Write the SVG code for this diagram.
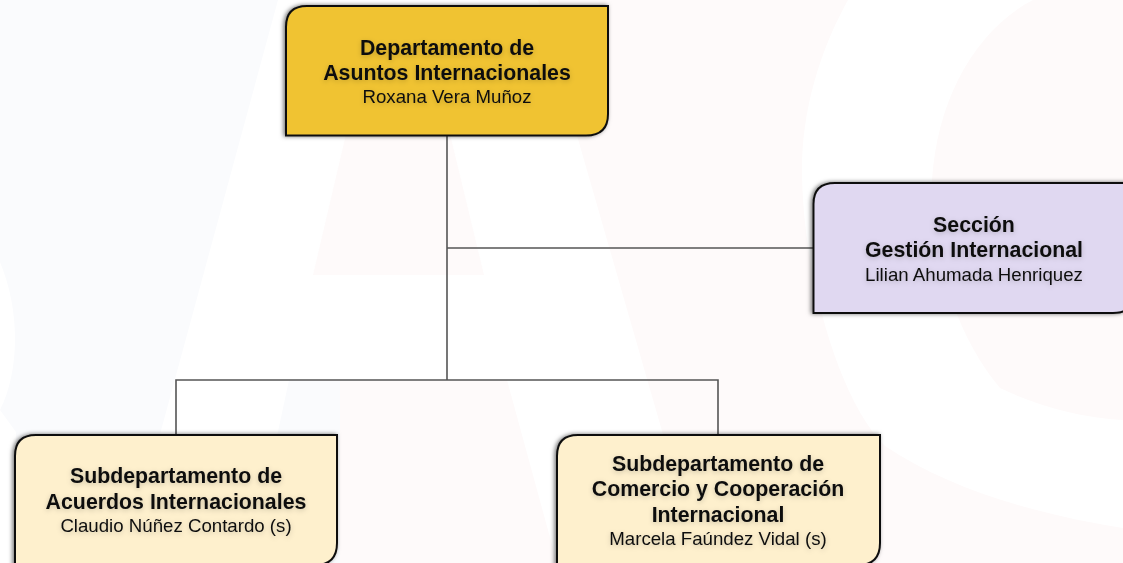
<svg xmlns="http://www.w3.org/2000/svg" width="1123" height="563" viewBox="0 0 1123 563">
<defs>
<style>
.box{stroke:#111;stroke-width:2}
.t{font-family:"Liberation Sans",Arial,sans-serif;text-anchor:middle;fill:#111;filter:url(#ts)}
.b{font-size:21.33px;font-weight:bold}
.r{font-size:18.67px}
.c{fill:none;stroke:#555;stroke-width:1.6}
.wb{fill:#fafbfd}.wp{fill:#fefafa}
</style>
<filter id="bs" x="-10%" y="-10%" width="120%" height="120%"><feDropShadow dx="-1.5" dy="0" stdDeviation="2.2" flood-color="#000" flood-opacity=".55"/></filter>
<filter id="ts" x="-10%" y="-40%" width="120%" height="180%"><feDropShadow dx="0" dy="1.5" stdDeviation="2.5" flood-color="#000" flood-opacity=".2"/></filter>
</defs>
<rect width="1123" height="563" fill="#fff"/>
<g id="watermark">
<path class="wb" d="M0 0H278L125 563H16V432L0 410C20 370 20 310 0 262Z"/>
<path class="wb" d="M289 380H341V563H250Z"/>
<path class="wp" d="M347 130H449L484 275H313Z"/>
<path class="wp" d="M340 380H507L557 563H340Z"/>
<path class="wp" d="M538 0H848C820 50 802 110 802 169C802 270 838 400 885 446C950 490 1040 515 1123 528V563H700Z"/>
<path class="wp" d="M1033 0C975 30 937 100 932 180C930 250 955 335 1000 388C1035 405 1080 418 1123 420V0Z"/>
</g>
<g id="connectors">
<path class="c" d="M447 135V380M447 248H813M176 435V380H718V435"/>
</g>
<g id="dept">
<path class="box" fill="#f0c332" filter="url(#bs)" d="M286 135.500V27Q286 6 307 6H608V114Q608 135.500 586 135.500Z"/>
<text class="t b" x="447" y="54.500">Departamento de</text>
<text class="t b" x="447" y="80">Asuntos Internacionales</text>
<text class="t r" x="447" y="103.300">Roxana Vera Muñoz</text>
</g>
<g id="seccion">
<path class="box" fill="#e0d8f1" filter="url(#bs)" d="M813.500 313V204Q813.500 183 835 183H1135V292Q1135 313 1113 313Z"/>
<text class="t b" x="974" y="232">Sección</text>
<text class="t b" x="974" y="257.300">Gestión Internacional</text>
<text class="t r" x="974" y="280.700">Lilian Ahumada Henriquez</text>
</g>
<g id="sub-acuerdos">
<path class="box" fill="#fef0cd" filter="url(#bs)" d="M15 570V456Q15 435 36 435H337V543Q337 565 315 565H15Z"/>
<text class="t b" x="176" y="483.300">Subdepartamento de</text>
<text class="t b" x="176" y="508.700">Acuerdos Internacionales</text>
<text class="t r" x="176" y="532.300">Claudio Núñez Contardo (s)</text>
</g>
<g id="sub-comercio">
<path class="box" fill="#fef0cd" filter="url(#bs)" d="M557 570V456Q557 435 578 435H880V543Q880 565 858 565H557Z"/>
<text class="t b" x="718" y="470.700">Subdepartamento de</text>
<text class="t b" x="718" y="495.700">Comercio y Cooperación</text>
<text class="t b" x="718" y="522.300">Internacional</text>
<text class="t r" x="718" y="545">Marcela Faúndez Vidal (s)</text>
</g>
</svg>
